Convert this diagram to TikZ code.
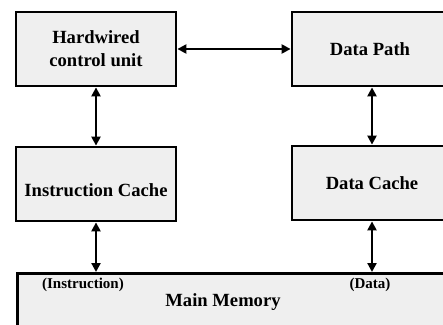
\documentclass[tikz,border=0pt]{standalone}
\usepackage{fontspec}
\setmainfont{Liberation Serif}
\usetikzlibrary{arrows.meta}
\definecolor{boxfill}{HTML}{EFEFEF}
\tikzset{
  blk/.style={draw=black, line width=2.8pt, fill=boxfill, inner sep=0pt, align=center,
    font=\fontsize{18.6}{23}\selectfont\bfseries},
  conn/.style={line width=2.2pt, {Triangle[length=9pt,width=9pt]}-{Triangle[length=9pt,width=9pt]}},
  lbl/.style={inner sep=0pt, font=\fontsize{15}{18}\selectfont\bfseries}
}
\begin{document}
\begin{tikzpicture}[x=1pt,y=-1pt]
\useasboundingbox (0,0) rectangle (443,324);
\clip (0,0) rectangle (443,324);
\fill[white] (0,0) rectangle (443,324);
\node[blk, minimum width=160pt, minimum height=74pt] (hw) at (96,49) {Hardwired\\control unit};
\node[blk, minimum width=156pt, minimum height=74pt] (dp) at (370,49) {Data Path};
\node[blk, minimum width=160pt, minimum height=74pt] (ic) at (96,184) {\raisebox{-12pt}[0pt][0pt]{Instruction Cache}};
\node[blk, minimum width=160pt, minimum height=74pt] (dc) at (372,183) {Data Cache};
\node[blk, minimum width=450pt, minimum height=80pt, anchor=north west] (mm) at (16,272) {};
\node[lbl] (li) at (83,285) {(Instruction)};
\node[lbl] (ld) at (370,285) {(Data)};
\node[lbl, font=\fontsize{18.6}{22}\selectfont\bfseries] (lm) at (223,302) {Main Memory};
\draw[conn] (hw.east) -- (dp.west);
\draw[conn] (hw.south) -- (ic.north);
\draw[conn] (dc.north) -- (dc.north |- dp.south);
\draw[conn] (ic.south) -- (ic.south |- mm.north);
\draw[conn] (dc.south) -- (dc.south |- mm.north);
\end{tikzpicture}
\end{document}
